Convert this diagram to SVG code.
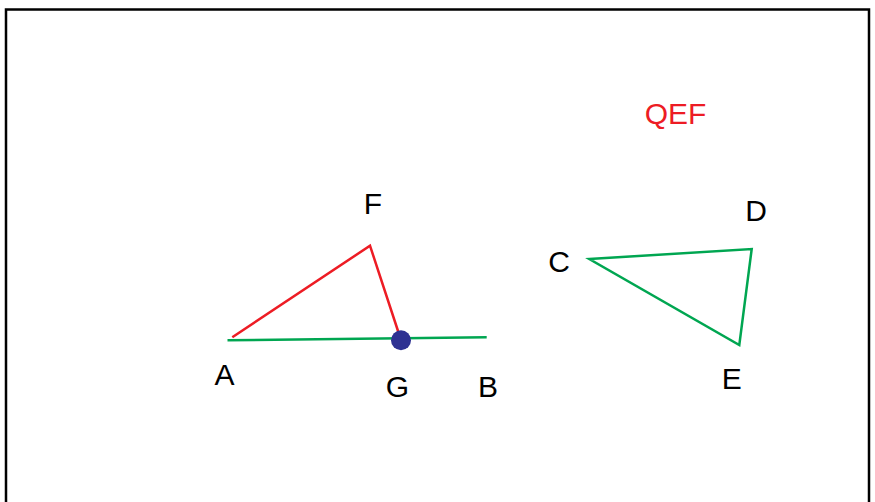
<svg xmlns="http://www.w3.org/2000/svg" width="875" height="502" viewBox="0 0 875 502">
<style>
  text { font-family: "Liberation Sans", Arial, sans-serif; font-size: 30px; text-anchor: middle; fill: #000; }
  .red { fill: none; stroke: #ED1C24; stroke-width: 2.5; }
  .green { fill: none; stroke: #00A651; stroke-width: 2.5; }
  .title { fill: #ED1C24; }
</style>
<rect x="0" y="0" width="875" height="502" fill="#fff"/>
<rect x="6" y="9.5" width="863" height="520" fill="none" stroke="#000" stroke-width="2.5"/>
<g id="connectors">
  <line id="AB" class="green" x1="227.5" y1="340.3" x2="486.7" y2="337.3"/>
  <polyline id="AFG" class="red" points="232.3,337.3 370,245.7 399,334"/>
  <polygon id="CDE" class="green" points="589.3,259 751.7,249 739.3,345" stroke-linejoin="miter"/>
</g>
<g id="node-G"><circle cx="401" cy="340.3" r="10" fill="#2E3192"/><text x="397.5" y="397">G</text></g>
<g id="node-A"><text x="224.5" y="385">A</text></g>
<g id="node-B"><text x="488" y="397">B</text></g>
<g id="node-F"><text x="373" y="213.5">F</text></g>
<g id="node-C"><text x="559" y="271.7">C</text></g>
<g id="node-D"><text x="756" y="220.7">D</text></g>
<g id="node-E"><text x="731.7" y="389.3">E</text></g>
<g id="label-QEF"><text class="title" x="675.5" y="124.3">QEF</text></g>
</svg>
